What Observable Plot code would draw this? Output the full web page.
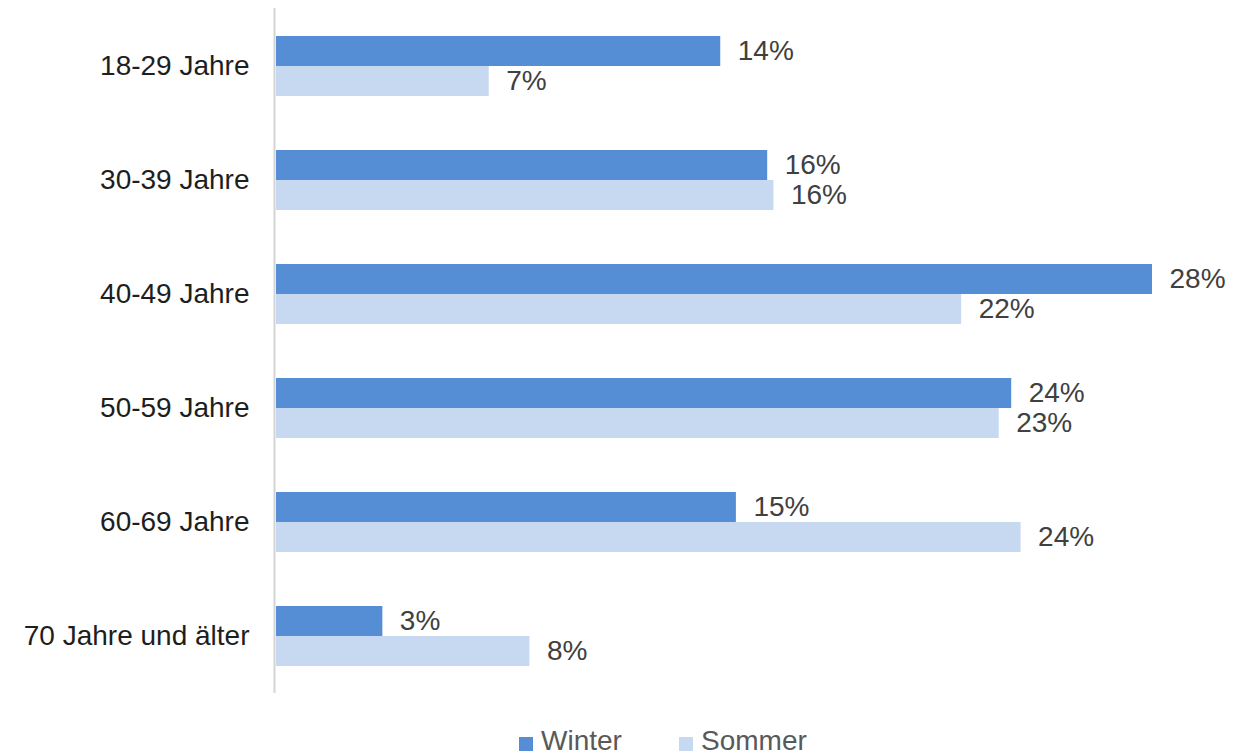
<!DOCTYPE html>
<html>
<head>
<meta charset="utf-8">
<script src="https://cdn.jsdelivr.net/npm/d3@7"></script>
<script src="https://cdn.jsdelivr.net/npm/@observablehq/plot@0.6"></script>
<style>
  html, body { margin: 0; padding: 0; background: #fff; }
  body { font-family: "Liberation Sans", Arial, sans-serif; width: 1248px; height: 755px; overflow: hidden; }
  #legend { position: relative; height: 35px; font-size: 28px; color: #595959; }
  .item { position: absolute; top: 6px; display: flex; align-items: center; line-height: 30px; }
  .sw { width: 14px; height: 14px; margin-right: 8px; margin-top: 6px; }
</style>
</head>
<body>
<div id="chart"></div>
<div id="legend"></div>
<script>
const categories = ["18-29 Jahre", "30-39 Jahre", "40-49 Jahre", "50-59 Jahre", "60-69 Jahre", "70 Jahre und älter"];
const winter = [14.2, 15.7, 28.0, 23.5, 14.7, 3.4];
const sommer = [6.8, 15.9, 21.9, 23.1, 23.8, 8.1];
const seriesNames = ["Winter", "Sommer"];
const colors = ["#558ED5", "#C6D9F1"];

const rows = [];
categories.forEach((c, i) => {
  rows.push({cat: c, series: "Winter", value: winter[i]});
  rows.push({cat: c, series: "Sommer", value: sommer[i]});
});
const W = rows.filter(d => d.series === "Winter");
const S = rows.filter(d => d.series === "Sommer");

const fmt = v => Math.round(v) + "%";

const plot = Plot.plot({
  width: 1248,
  height: 720,
  marginLeft: 276,
  marginRight: 96,
  marginTop: 8,
  marginBottom: 27,
  style: {fontFamily: "'Liberation Sans', Arial, sans-serif", fontSize: "28px", background: "#fff"},
  x: {domain: [0, 28], axis: null},
  y: {domain: categories, axis: null, paddingInner: 0.475, paddingOuter: 0.2375},
  marks: [
    Plot.barX(W, {x: "value", y: "cat", fill: colors[0], insetBottom: 30}),
    Plot.barX(S, {x: "value", y: "cat", fill: colors[1], insetTop: 30}),
    Plot.ruleX([0], {stroke: "#d4d4d4", strokeWidth: 2, dx: -2}),
    Plot.text(W, {x: "value", y: "cat", text: d => fmt(d.value), dx: 17, dy: -15, textAnchor: "start", fill: "#404040", fontSize: 28}),
    Plot.text(S, {x: "value", y: "cat", text: d => fmt(d.value), dx: 17, dy: 15, textAnchor: "start", fill: "#404040", fontSize: 28}),
    Plot.text(categories, {x: 0, y: d => d, text: d => d, dx: -27, textAnchor: "end", fill: "#1e1e1e", fontSize: 28})
  ]
});
document.getElementById("chart").appendChild(plot);

const legend = document.getElementById("legend");
const lefts = [519, 679];
seriesNames.forEach((n, i) => {
  const it = document.createElement("div");
  it.className = "item";
  it.style.left = lefts[i] + "px";
  const sw = document.createElement("span");
  sw.className = "sw";
  sw.style.background = colors[i];
  const t = document.createElement("span");
  t.textContent = n;
  it.appendChild(sw);
  it.appendChild(t);
  legend.appendChild(it);
});
</script>
</body>
</html>
